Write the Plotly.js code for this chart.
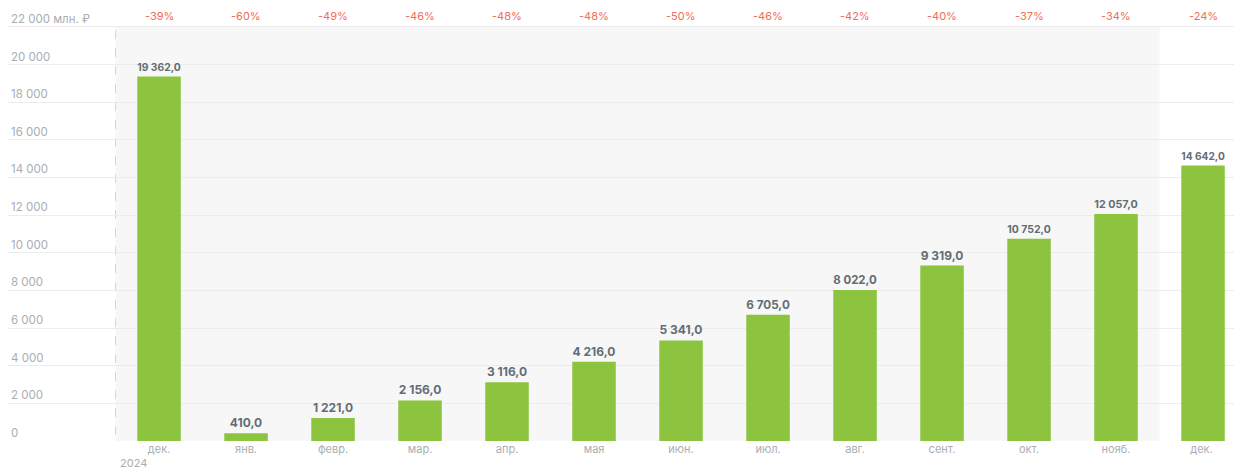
<!DOCTYPE html>
<html><head><meta charset="utf-8">
<script src="https://cdn.plot.ly/plotly-3.0.1.min.js"></script>
<style>html,body{margin:0;padding:0;background:#fff}#c{width:1234px;height:470px}</style>
</head><body><div id="c"></div>
<script>
const categories = ['дек.','янв.','февр.','мар.','апр.','мая','июн.','июл.','авг.','сент.','окт.','нояб.','дек. '];
const values = [19362,410,1221,2156,3116,4216,5341,6705,8022,9319,10752,12057,14642];
const changes = ['-39%','-60%','-49%','-46%','-48%','-48%','-50%','-46%','-42%','-40%','-37%','-34%','-24%'];
const yTickVals = [0,2000,4000,6000,8000,10000,12000,14000,16000,18000,20000,22000];
const yTickText = ['0','2 000','4 000','6 000','8 000','10 000','12 000','14 000','16 000','18 000','20 000','22 000 млн. ₽'];
const yearLabel = '2024';

const font = 'Inter, "Open Sans", sans-serif';
const trace = {
  type:'bar', x:categories, y:values, width:0.5,
  marker:{color:'#8cc43f', line:{width:0}},
  texttemplate:'%{y:,.1f}', textposition:'outside', cliponaxis:false,
  textfont:{family:font, size:12, color:'#626d75', weight:700},
  hoverinfo:'skip'
};
const annotations = changes.map((c,i)=>({
  x:categories[i], y:22000, xref:'x', yref:'y', text:c, showarrow:false,
  yanchor:'bottom', yshift:2, font:{family:font, size:11, color:'#f26b5b'}
}));
annotations.push({x:-0.5, y:0, xref:'x', yref:'y', text:yearLabel, showarrow:false,
  xanchor:'left', yanchor:'top', xshift:2, yshift:-13, font:{family:font, size:11, color:'#a8aeb3'}});
const layout = {
  width:1234, height:470, margin:{l:8, r:0, t:10, b:29},
  paper_bgcolor:'#fff', plot_bgcolor:'#fff', separators:', ', showlegend:false,
  bargap:0.5,
  xaxis:{type:'category', range:[-1.736,12.356], showgrid:false, zeroline:false, showline:false,
    ticks:'', tickfont:{family:font, size:11, color:'#a8aeb3'}, fixedrange:true},
  yaxis:{range:[0,22900], tickvals:yTickVals, ticktext:yTickText, ticklabelposition:'inside top',
    showgrid:true, gridcolor:'#ececec', gridwidth:1, zeroline:false, showline:false, ticks:'',
    tickfont:{family:font, size:11.5, color:'#a8aeb3'}, fixedrange:true},
  shapes:[
    {type:'rect', xref:'x', yref:'y', x0:-0.5, x1:11.5, y0:0, y1:22000, fillcolor:'#f7f7f7', line:{width:0}, layer:'below'},
    {type:'line', xref:'x', yref:'y', x0:-0.5, x1:-0.5, y0:-1600, y1:22000, line:{color:'#d6d6d6', width:1, dash:'dash'}, layer:'below'}
  ],
  annotations:annotations
};
Plotly.newPlot('c',[trace],layout,{displayModeBar:false, staticPlot:true});
</script></body></html>
